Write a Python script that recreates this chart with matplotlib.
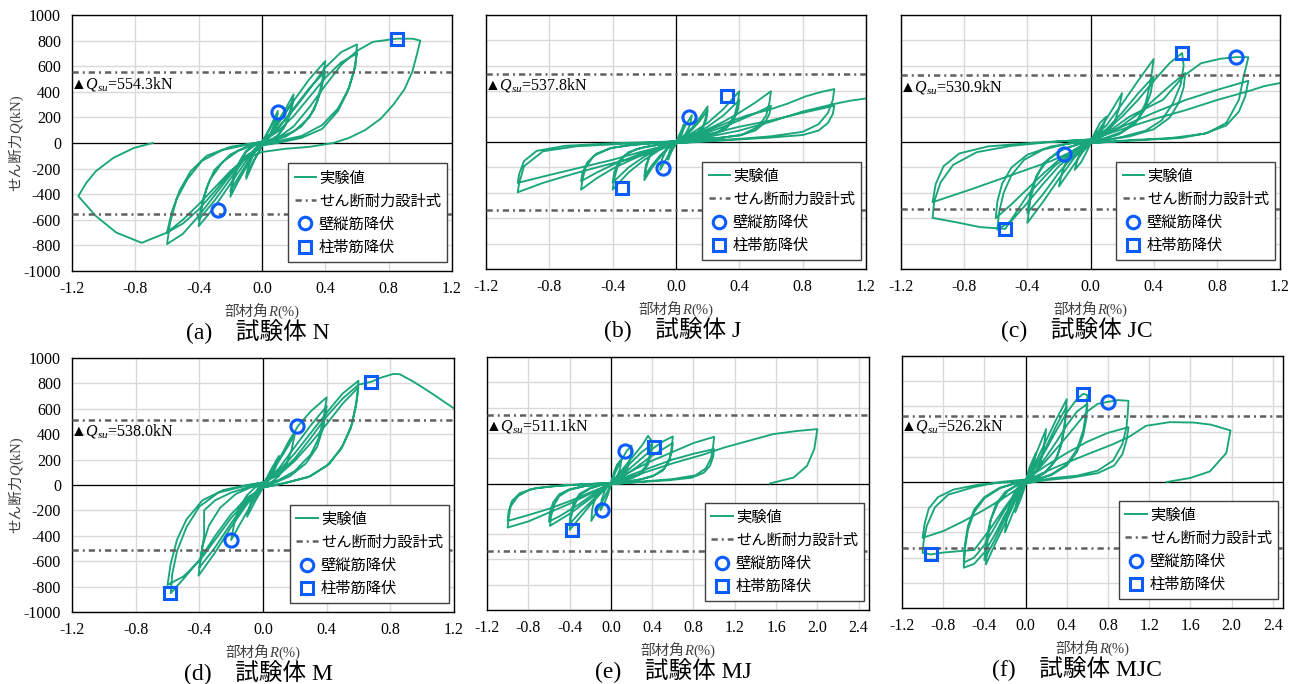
import numpy as np
import matplotlib
matplotlib.use("Agg")
import matplotlib.pyplot as plt
from matplotlib.ticker import MultipleLocator, FormatStrFormatter
from matplotlib.lines import Line2D

plt.rcParams['font.family'] = ['Liberation Serif', 'Noto Sans CJK JP', 'DejaVu Sans']
plt.rcParams['mathtext.fontset'] = 'custom'
plt.rcParams['mathtext.rm'] = 'Liberation Serif'
plt.rcParams['mathtext.it'] = 'Liberation Serif:italic'
plt.rcParams['axes.unicode_minus'] = False

# ---- data: (R [%], Q [kN]) vertices of each test curve ----
N_curve = [
    (0, 0), (0.05, 120), (0.1, 250), (0.08, 150), (0.05, 60), (0.02, 10), (0, -20), (-0.05, -140), (-0.1, -280),
    (-0.08, -170), (-0.05, -70), (-0.02, -10), (0, 10),
    (0.05, 110), (0.1, 230), (0.08, 130), (0.05, 50), (0.02, 5), (0, -25), (-0.05, -130), (-0.1, -260),
    (-0.08, -150), (-0.05, -60), (-0.02, -5), (0, 15),
    (0.05, 70), (0.1, 170), (0.15, 270), (0.2, 380), (0.18, 260), (0.15, 150), (0.1, 60), (0.05, 20), (0, -10),
    (-0.05, -80), (-0.1, -190), (-0.15, -300), (-0.2, -420), (-0.18, -290), (-0.15, -170), (-0.1, -70), (-0.05, -20), (0, 10),
    (0.05, 60), (0.1, 150), (0.15, 240), (0.2, 340), (0.18, 230), (0.14, 120), (0.1, 55), (0.05, 15), (0, -15),
    (-0.05, -70), (-0.1, -170), (-0.15, -270), (-0.2, -380), (-0.18, -260), (-0.14, -140), (-0.1, -60), (-0.05, -20), (0, 10),
    (0.05, 60), (0.1, 150), (0.2, 330), (0.3, 500), (0.4, 640), (0.38, 480), (0.35, 330), (0.3, 200), (0.2, 90), (0.1, 40), (0, 0),
    (-0.05, -50), (-0.1, -140), (-0.2, -320), (-0.3, -500), (-0.4, -650), (-0.38, -500), (-0.35, -350), (-0.3, -210),
    (-0.2, -90), (-0.1, -30), (0, 10),
    (0.1, 110), (0.2, 270), (0.3, 430), (0.4, 560), (0.37, 400), (0.33, 260), (0.25, 130), (0.15, 50), (0.05, 10), (0, -10),
    (-0.1, -110), (-0.2, -280), (-0.3, -450), (-0.4, -600), (-0.37, -430), (-0.33, -290), (-0.25, -150), (-0.15, -60), (-0.05, -15), (0, 10),
    (0.1, 120), (0.2, 260), (0.3, 420), (0.4, 590), (0.5, 710), (0.6, 770), (0.59, 600), (0.55, 430), (0.48, 270), (0.38, 140),
    (0.25, 55), (0.1, 15), (0, -10), (-0.1, -110), (-0.2, -250), (-0.3, -410), (-0.4, -570), (-0.5, -710), (-0.6, -790),
    (-0.58, -620), (-0.54, -440), (-0.47, -280), (-0.38, -140), (-0.25, -55), (-0.1, -15), (0, 10),
    (0.1, 90), (0.2, 210), (0.3, 360), (0.4, 510), (0.5, 630), (0.6, 700), (0.58, 560), (0.54, 400), (0.48, 250), (0.38, 110),
    (0.25, 40), (0.1, 0), (0, -20), (-0.1, -100), (-0.2, -230), (-0.3, -380), (-0.4, -520), (-0.5, -630), (-0.6, -700),
    (-0.57, -540), (-0.52, -370), (-0.45, -220), (-0.35, -100), (-0.2, -30), (0, 10),
    (0.1, 40), (0.2, 130), (0.3, 280), (0.4, 450), (0.5, 610), (0.6, 720), (0.7, 790), (0.85, 815), (0.95, 815), (1.0, 800),
    (0.98, 700), (0.95, 560), (0.9, 420), (0.83, 300), (0.75, 190), (0.65, 100), (0.55, 40), (0.45, 0), (0.3, -30),
    (0.15, -45), (0, -70), (-0.1, -120), (-0.2, -220), (-0.3, -350), (-0.4, -480), (-0.5, -600), (-0.6, -700),
    (-0.76, -780), (-0.92, -700), (-1.05, -570), (-1.16, -415), (-1.11, -312), (-1.05, -221), (-0.94, -117),
    (-0.81, -39), (-0.69, 0)]

J_curve = [
    (0, 0), (0.03, 80), (0.05, 140), (0.04, 70), (0.02, 20), (0, -10), (-0.03, -80), (-0.05, -140), (-0.04, -70), (-0.02, -20), (0, 0),
    (0.03, 60), (0.06, 130), (0.1, 210), (0.09, 140), (0.06, 60), (0.03, 20), (0, -10), (-0.03, -60), (-0.06, -130), (-0.1, -220),
    (-0.09, -140), (-0.06, -60), (-0.03, -20), (0, 0),
    (0.05, 50), (0.1, 110), (0.15, 190), (0.2, 280), (0.19, 200), (0.17, 120), (0.12, 50), (0.06, 20), (0, -5), (-0.05, -50),
    (-0.1, -120), (-0.15, -200), (-0.2, -300), (-0.19, -210), (-0.17, -120), (-0.12, -50), (-0.06, -15), (0, 0),
    (0.05, 40), (0.1, 95), (0.15, 165), (0.2, 250), (0.19, 170), (0.16, 90), (0.1, 35), (0.05, 10), (0, -10), (-0.05, -45),
    (-0.1, -105), (-0.15, -180), (-0.2, -270), (-0.19, -180), (-0.16, -100), (-0.1, -40), (-0.05, -10), (0, 0),
    (0.1, 70), (0.2, 150), (0.3, 260), (0.4, 400), (0.39, 310), (0.37, 210), (0.33, 130), (0.25, 70), (0.15, 40), (0.05, 15), (0, -5),
    (-0.1, -60), (-0.2, -140), (-0.3, -240), (-0.4, -375), (-0.39, -290), (-0.37, -200), (-0.33, -110), (-0.25, -55),
    (-0.15, -30), (-0.05, -10), (0, 5),
    (0.1, 55), (0.2, 120), (0.3, 210), (0.4, 330), (0.39, 250), (0.36, 160), (0.3, 90), (0.2, 45), (0.1, 25), (0, 0),
    (-0.1, -50), (-0.2, -115), (-0.3, -200), (-0.4, -320), (-0.39, -240), (-0.36, -150), (-0.3, -80), (-0.2, -40), (-0.1, -20), (0, 5),
    (0.1, 50), (0.2, 100), (0.3, 160), (0.4, 230), (0.5, 310), (0.6, 400), (0.59, 310), (0.57, 210), (0.52, 120), (0.42, 60),
    (0.3, 35), (0.15, 20), (0, 0), (-0.1, -45), (-0.2, -95), (-0.3, -150), (-0.4, -210), (-0.5, -285), (-0.6, -375),
    (-0.59, -290), (-0.57, -200), (-0.52, -110), (-0.42, -50), (-0.3, -25), (-0.15, -10), (0, 5),
    (0.1, 35), (0.2, 75), (0.3, 120), (0.4, 170), (0.5, 225), (0.6, 285), (0.59, 220), (0.56, 150), (0.5, 90), (0.4, 50),
    (0.25, 30), (0.1, 15), (0, 0), (-0.1, -40), (-0.2, -80), (-0.3, -130), (-0.4, -180), (-0.5, -240), (-0.6, -309),
    (-0.59, -240), (-0.56, -160), (-0.5, -90), (-0.4, -45), (-0.25, -20), (-0.1, -5), (0, 5),
    (0.1, 50), (0.2, 90), (0.32, 150), (0.45, 210), (0.59, 255), (0.7, 300), (0.82, 360), (0.92, 395), (1.0, 417),
    (0.99, 330), (0.96, 230), (0.9, 140), (0.8, 80), (0.6, 45), (0.4, 25), (0.2, 10), (0, -10),
    (-0.15, -80), (-0.31, -139), (-0.47, -190), (-0.63, -244), (-0.84, -322), (-1.0, -396), (-0.99, -322),
    (-0.96, -191), (-0.84, -73), (-0.63, -34), (-0.31, -13), (0, 5),
    (0.2, 60), (0.4, 120), (0.6, 170), (0.8, 230), (1.0, 285), (0.99, 220), (0.96, 150), (0.9, 90), (0.8, 55), (0.6, 35),
    (0.4, 20), (0.2, 5), (0, -10),
    (-0.2, -70), (-0.4, -140), (-0.6, -200), (-0.8, -260), (-1.0, -322), (-0.99, -250), (-0.96, -150), (-0.88, -70),
    (-0.7, -30), (-0.4, -10), (0, 5),
    (0.2, 40), (0.4, 90), (0.6, 160), (0.8, 240), (1.0, 300), (1.1, 325), (1.2, 343)]

JC_curve = [
    (0, 0), (0.03, 80), (0.06, 150), (0.1, 200), (0.08, 120), (0.05, 50), (0.02, 10), (0, -15), (-0.03, -90), (-0.06, -160),
    (-0.1, -220), (-0.08, -130), (-0.05, -50), (-0.02, -10), (0, 10),
    (0.05, 90), (0.1, 180), (0.15, 280), (0.2, 385), (0.18, 260), (0.15, 150), (0.1, 70), (0.05, 25), (0, -10), (-0.05, -80),
    (-0.1, -170), (-0.15, -260), (-0.2, -350), (-0.18, -240), (-0.15, -140), (-0.1, -60), (-0.05, -20), (0, 10),
    (0.1, 130), (0.2, 300), (0.3, 480), (0.4, 653), (0.38, 470), (0.35, 310), (0.3, 180), (0.2, 80), (0.1, 35), (0, 0),
    (-0.1, -120), (-0.2, -290), (-0.3, -470), (-0.4, -637), (-0.38, -450), (-0.35, -300), (-0.3, -170), (-0.2, -70), (-0.1, -25), (0, 10),
    (0.1, 100), (0.2, 230), (0.3, 380), (0.4, 516), (0.38, 380), (0.34, 250), (0.28, 140), (0.18, 60), (0.08, 20), (0, -5),
    (-0.1, -100), (-0.2, -240), (-0.3, -410), (-0.4, -560), (-0.38, -400), (-0.34, -260), (-0.27, -140), (-0.17, -55), (-0.07, -15), (0, 10),
    (0.1, 90), (0.2, 200), (0.3, 330), (0.4, 480), (0.5, 620), (0.58, 700), (0.59, 600), (0.57, 450), (0.52, 300), (0.45, 170),
    (0.35, 90), (0.2, 40), (0, -10), (-0.1, -80), (-0.2, -190), (-0.3, -330), (-0.4, -480), (-0.5, -620), (-0.59, -690),
    (-0.58, -560), (-0.55, -400), (-0.5, -260), (-0.42, -140), (-0.3, -60), (-0.15, -15), (0, 15),
    (0.1, 60), (0.2, 130), (0.3, 220), (0.4, 330), (0.5, 440), (0.6, 543), (0.59, 430), (0.56, 310), (0.5, 190), (0.4, 100),
    (0.25, 45), (0.1, 15), (0, -10), (-0.1, -60), (-0.2, -140), (-0.3, -250), (-0.4, -370), (-0.5, -490), (-0.6, -600),
    (-0.59, -470), (-0.56, -330), (-0.5, -200), (-0.4, -100), (-0.25, -35), (-0.1, -5), (0, 15),
    (0.1, 70), (0.25, 202), (0.46, 333), (0.59, 520), (0.7, 620), (0.82, 655), (0.92, 668), (1.0, 668), (0.97, 516),
    (0.94, 333), (0.86, 150), (0.74, 71), (0.57, 31), (0.36, 18), (0, -8),
    (-0.1, -70), (-0.23, -191), (-0.4, -420), (-0.54, -684), (-0.7, -670), (-0.85, -632), (-1.0, -598), (-0.99, -470),
    (-0.95, -320), (-0.87, -180), (-0.72, -80), (-0.5, -30), (-0.25, 0), (0, 20),
    (0.2, 120), (0.4, 230), (0.6, 330), (0.8, 410), (1.0, 482), (0.98, 360), (0.94, 240), (0.86, 130), (0.72, 65), (0.5, 30),
    (0.25, 15), (0, -10),
    (-0.25, -150), (-0.5, -260), (-0.75, -370), (-1.0, -474), (-0.98, -330), (-0.93, -190), (-0.83, -90), (-0.65, -35),
    (-0.35, -5), (0, 20),
    (0.2, 100), (0.4, 180), (0.6, 250), (0.8, 330), (1.0, 400), (1.1, 440), (1.2, 464)]

M_curve = [
    (0, 0), (0.05, 120), (0.1, 230), (0.08, 140), (0.05, 60), (0.02, 10), (0, -20), (-0.05, -130), (-0.1, -250), (-0.08, -150),
    (-0.05, -60), (-0.02, -10), (0, 10),
    (0.05, 90), (0.1, 190), (0.15, 290), (0.2, 400), (0.18, 280), (0.15, 170), (0.1, 70), (0.05, 20), (0, -10), (-0.05, -100),
    (-0.1, -210), (-0.15, -320), (-0.2, -433), (-0.18, -300), (-0.15, -180), (-0.1, -80), (-0.05, -20), (0, 10),
    (0.05, 90), (0.1, 200), (0.16, 340), (0.22, 464), (0.3, 580), (0.4, 690), (0.38, 520), (0.35, 370), (0.3, 240), (0.2, 110),
    (0.1, 40), (0, 0), (-0.1, -150), (-0.2, -330), (-0.3, -530), (-0.405, -714), (-0.39, -560), (-0.37, -400), (-0.37, -200),
    (-0.3, -120), (-0.2, -60), (-0.1, -20), (0, 10),
    (0.1, 130), (0.2, 300), (0.3, 470), (0.4, 620), (0.38, 460), (0.34, 300), (0.27, 170), (0.17, 70), (0.08, 20), (0, -10),
    (-0.1, -130), (-0.2, -300), (-0.3, -490), (-0.4, -650), (-0.38, -480), (-0.34, -320), (-0.27, -180), (-0.17, -70), (-0.08, -20), (0, 10),
    (0.1, 110), (0.2, 250), (0.3, 410), (0.4, 570), (0.5, 720), (0.6, 821), (0.59, 660), (0.56, 480), (0.5, 310), (0.42, 170),
    (0.3, 70), (0.15, 20), (0, -20), (-0.1, -120), (-0.2, -260), (-0.3, -430), (-0.4, -600), (-0.5, -720), (-0.6, -787),
    (-0.58, -620), (-0.54, -430), (-0.48, -270), (-0.38, -120), (-0.25, -40), (-0.1, 0), (0, 20),
    (0.1, 80), (0.2, 190), (0.3, 330), (0.4, 480), (0.5, 640), (0.6, 770), (0.58, 610), (0.55, 440), (0.49, 280), (0.4, 150),
    (0.28, 60), (0.12, 10), (0, -20), (-0.1, -100), (-0.2, -230), (-0.3, -400), (-0.4, -590), (-0.5, -740), (-0.58, -852),
    (-0.57, -700), (-0.54, -520), (-0.48, -330), (-0.4, -170), (-0.28, -60), (-0.12, -10), (0, 20),
    (0.1, 90), (0.2, 210), (0.3, 370), (0.4, 540), (0.5, 680), (0.6, 790), (0.68, 813), (0.74, 845), (0.82, 875), (0.86, 872),
    (0.95, 810), (1.05, 730), (1.2, 603)]

MJ_curve = [
    (0, 0), (0.03, 90), (0.06, 150), (0.1, 190), (0.09, 120), (0.06, 50), (0.03, 15), (0, -10), (-0.03, -90), (-0.06, -150),
    (-0.1, -211), (-0.09, -130), (-0.06, -60), (-0.03, -15), (0, 5),
    (0.05, 100), (0.1, 180), (0.15, 253), (0.2, 300), (0.19, 210), (0.16, 120), (0.1, 50), (0.05, 15), (0, -10), (-0.05, -90),
    (-0.1, -170), (-0.15, -240), (-0.19, -296), (-0.18, -200), (-0.15, -110), (-0.1, -45), (-0.05, -15), (0, 5),
    (0.1, 100), (0.2, 200), (0.3, 300), (0.36, 377), (0.4, 330), (0.38, 230), (0.34, 140), (0.27, 70), (0.15, 30), (0, 0),
    (-0.1, -80), (-0.2, -170), (-0.3, -270), (-0.4, -367), (-0.39, -280), (-0.36, -180), (-0.3, -90), (-0.2, -40), (-0.1, -15), (0, 5),
    (0.1, 80), (0.2, 170), (0.3, 250), (0.4, 310), (0.39, 230), (0.36, 150), (0.3, 80), (0.2, 40), (0.1, 15), (0, -5),
    (-0.1, -70), (-0.2, -150), (-0.3, -230), (-0.4, -320), (-0.39, -240), (-0.36, -150), (-0.3, -80), (-0.2, -35), (-0.1, -10), (0, 5),
    (0.1, 60), (0.2, 130), (0.3, 200), (0.42, 285), (0.5, 330), (0.6, 372), (0.59, 290), (0.57, 200), (0.52, 120), (0.42, 65),
    (0.3, 35), (0.15, 15), (0, -5), (-0.1, -60), (-0.2, -120), (-0.3, -180), (-0.4, -240), (-0.5, -290), (-0.59, -335),
    (-0.58, -260), (-0.55, -170), (-0.5, -100), (-0.4, -50), (-0.25, -20), (-0.1, -5), (0, 5),
    (0.1, 50), (0.2, 100), (0.3, 160), (0.4, 220), (0.5, 270), (0.6, 320), (0.59, 250), (0.56, 170), (0.5, 100), (0.4, 55),
    (0.25, 25), (0.1, 10), (0, -5), (-0.1, -50), (-0.2, -100), (-0.3, -160), (-0.4, -210), (-0.5, -260), (-0.6, -300),
    (-0.59, -230), (-0.56, -150), (-0.5, -85), (-0.4, -45), (-0.25, -20), (-0.1, -5), (0, 5),
    (0.1, 50), (0.2, 100), (0.4, 180), (0.6, 250), (0.8, 320), (1.0, 369), (0.99, 290), (0.97, 200), (0.92, 120), (0.82, 65),
    (0.6, 35), (0.3, 15), (0, -5),
    (-0.2, -80), (-0.4, -160), (-0.6, -230), (-0.8, -300), (-1.0, -348), (-0.99, -270), (-0.97, -180), (-0.9, -100),
    (-0.78, -45), (-0.55, -20), (-0.25, -5), (0, 5),
    (0.2, 70), (0.4, 130), (0.6, 190), (0.8, 235), (1.0, 272), (0.99, 210), (0.96, 140), (0.9, 85), (0.78, 45), (0.55, 25),
    (0.25, 10), (0, -5),
    (-0.2, -70), (-0.4, -140), (-0.6, -200), (-0.8, -250), (-1.0, -296), (-0.99, -220), (-0.96, -140), (-0.88, -75),
    (-0.72, -35), (-0.45, -15), (0, 5),
    (0.3, 80), (0.6, 160), (0.9, 230), (1.1, 285), (1.28, 325), (1.57, 390), (1.8, 415), (2.0, 430), (1.97, 272),
    (1.9, 140), (1.77, 47), (1.54, 0)]

MJC_curve = [
    (0, 0), (0.04, 120), (0.1, 230), (0.08, 140), (0.05, 60), (0.02, 10), (0, -20), (-0.04, -120), (-0.1, -240), (-0.08, -140),
    (-0.05, -60), (-0.02, -10), (0, 10),
    (0.05, 110), (0.1, 220), (0.15, 320), (0.2, 420), (0.18, 290), (0.15, 170), (0.1, 80), (0.05, 25), (0, -10), (-0.05, -100),
    (-0.1, -200), (-0.15, -300), (-0.2, -400), (-0.18, -270), (-0.15, -160), (-0.1, -70), (-0.05, -20), (0, 10),
    (0.1, 160), (0.2, 330), (0.3, 500), (0.4, 657), (0.38, 470), (0.35, 310), (0.3, 180), (0.2, 80), (0.1, 30), (0, 0),
    (-0.1, -150), (-0.2, -330), (-0.3, -500), (-0.385, -654), (-0.37, -470), (-0.34, -310), (-0.29, -180), (-0.2, -80), (-0.1, -30), (0, 10),
    (0.1, 130), (0.2, 280), (0.3, 450), (0.4, 600), (0.38, 430), (0.34, 280), (0.28, 160), (0.18, 70), (0.08, 20), (0, -5),
    (-0.1, -120), (-0.2, -290), (-0.3, -460), (-0.4, -620), (-0.38, -450), (-0.34, -300), (-0.27, -170), (-0.17, -70), (-0.07, -20), (0, 10),
    (0.1, 120), (0.2, 260), (0.3, 410), (0.4, 550), (0.5, 660), (0.56, 700), (0.6, 690), (0.59, 560), (0.56, 410), (0.5, 260),
    (0.4, 140), (0.25, 60), (0.1, 20), (0, -15), (-0.1, -120), (-0.2, -260), (-0.3, -420), (-0.4, -560), (-0.5, -650),
    (-0.6, -680), (-0.59, -540), (-0.56, -380), (-0.5, -240), (-0.4, -130), (-0.25, -50), (-0.1, -10), (0, 15),
    (0.1, 90), (0.2, 200), (0.3, 320), (0.4, 450), (0.5, 560), (0.6, 620), (0.59, 500), (0.56, 370), (0.5, 240), (0.4, 130),
    (0.25, 55), (0.1, 15), (0, -15), (-0.1, -100), (-0.2, -220), (-0.3, -360), (-0.4, -500), (-0.5, -600), (-0.6, -640),
    (-0.59, -500), (-0.56, -350), (-0.5, -220), (-0.4, -120), (-0.25, -45), (-0.1, -10), (0, 15),
    (0.1, 80), (0.2, 170), (0.4, 360), (0.6, 560), (0.7, 620), (0.8, 636), (0.9, 650), (1.0, 644), (0.99, 520), (0.98, 435),
    (0.94, 300), (0.85, 170), (0.7, 90), (0.5, 50), (0.25, 30), (0, -10),
    (-0.1, -90), (-0.2, -200), (-0.35, -380), (-0.5, -540), (-0.65, -549), (-0.8, -560), (-0.92, -575), (-1.0, -562),
    (-0.99, -470), (-0.96, -350), (-0.88, -200), (-0.75, -100), (-0.5, -40), (-0.25, 0), (0, 20),
    (0.2, 130), (0.4, 230), (0.6, 320), (0.8, 390), (1.0, 435), (0.98, 330), (0.94, 220), (0.86, 130), (0.7, 70), (0.45, 35),
    (0.2, 15), (0, -10),
    (-0.2, -120), (-0.4, -220), (-0.6, -310), (-0.8, -390), (-1.0, -443), (-0.98, -330), (-0.94, -210), (-0.85, -120),
    (-0.7, -60), (-0.45, -20), (0, 10),
    (0.3, 120), (0.6, 220), (0.85, 300), (1.01, 361), (1.17, 446), (1.4, 475), (1.63, 472), (1.8, 455), (1.99, 409),
    (1.95, 230), (1.79, 84), (1.6, 32), (1.37, 0)]

# yield points (壁縦筋降伏 = circle, 柱帯筋降伏 = square)
N_circles = [(0.1, 240), (-0.28, -520)]
N_squares = [(0.85, 810)]
J_circles = [(0.08, 196), (-0.08, -204)]
J_squares = [(0.32, 359), (-0.34, -362)]
JC_circles = [(0.92, 668), (-0.167, -92)]
JC_squares = [(0.58, 700), (-0.54, -684)]
M_circles = [(0.216, 464), (-0.2, -433)]
M_squares = [(0.68, 813), (-0.583, -852)]
MJ_circles = [(0.14, 253), (-0.09, -211)]
MJ_squares = [(0.42, 285), (-0.38, -367)]
MJC_circles = [(0.8, 636)]
MJC_squares = [(0.56, 700), (-0.92, -575)]

# design shear strength lines (upper, lower) and the printed Qsu values
qsu_lines = {'N': (554, -554), 'J': (538, -537), 'JC': (531, -531),
             'M': (512, -512), 'MJ': (538, -533), 'MJC': (525, -526)}
qsu_labels = {'N': '554.3', 'J': '537.8', 'JC': '530.9', 'M': '538.0', 'MJ': '511.1', 'MJC': '526.2'}
x_max = {'N': 1.2, 'J': 1.2, 'JC': 1.2, 'M': 1.2, 'MJ': 2.5, 'MJC': 2.5}
captions = {'N': '(a)\u3000試験体 N', 'J': '(b)\u3000試験体 J', 'JC': '(c)\u3000試験体 JC',
            'M': '(d)\u3000試験体 M', 'MJ': '(e)\u3000試験体 MJ', 'MJC': '(f)\u3000試験体 MJC'}
legend_labels = ['実験値', 'せん断耐力設計式', '壁縦筋降伏', '柱帯筋降伏']

curves = {'N': N_curve, 'J': J_curve, 'JC': JC_curve, 'M': M_curve, 'MJ': MJ_curve, 'MJC': MJC_curve}
circles = {'N': N_circles, 'J': J_circles, 'JC': JC_circles, 'M': M_circles, 'MJ': MJ_circles, 'MJC': MJC_circles}
squares = {'N': N_squares, 'J': J_squares, 'JC': JC_squares, 'M': M_squares, 'MJ': MJ_squares, 'MJC': MJC_squares}

GREEN = '#1aa67a'
BLUE = '#0a5cff'
GRAY = '#606060'
LABEL = '#404040'
DASHDOT = (0, (2.5, 1.6, 0.8, 1.6))

W, H = 1298, 684
fig = plt.figure(figsize=(W / 100, H / 100), dpi=100)
renderer = fig.canvas.get_renderer()


def pieces_text(pieces, cx, cy, vertical=False, size=10.5):
    # mixed Japanese / italic latin label, laid out piece by piece on one baseline (pixel coords)
    arts = []
    for s, style in pieces:
        t = fig.text(0, 0, s, fontsize=size, style=style, color=LABEL,
                     rotation=90 if vertical else 0, rotation_mode='anchor',
                     ha='left', va='baseline')
        arts.append(t)
    lens = []
    for t in arts:
        e = t.get_window_extent(renderer)
        lens.append(e.height if vertical else e.width)
    pos = (cy if vertical else cx) - sum(lens) / 2
    for t, n in zip(arts, lens):
        if vertical:
            t.set_position((cx / W, pos / H))
        else:
            t.set_position((pos / W, 1 - cy / H))
        pos += n


# panel boxes in pixels: left, top, right, bottom
boxes = {'N': (72, 15, 452, 271), 'J': (486, 15, 866, 269), 'JC': (901, 15, 1280, 269),
         'M': (72, 358, 454, 612), 'MJ': (487, 357, 869, 610), 'MJC': (902, 356, 1283, 608)}
qsu_y = {'N': 0.73, 'J': 0.724, 'JC': 0.717, 'M': 0.713, 'MJ': 0.727, 'MJC': 0.722}
cap_x = {'N': 258, 'J': 673, 'JC': 1077, 'M': 258, 'MJ': 673, 'MJC': 1077}
left_col = ('N', 'M')

for key, (l, t, r, b) in boxes.items():
    ax = fig.add_axes([l / W, 1 - b / H, (r - l) / W, (b - t) / H])
    ax.set_xlim(-1.2, x_max[key])
    ax.set_ylim(-1000, 1000)
    ax.xaxis.set_major_locator(MultipleLocator(0.4))
    ax.xaxis.set_major_formatter(FormatStrFormatter('%.1f'))
    ax.yaxis.set_major_locator(MultipleLocator(200))
    ax.yaxis.set_major_formatter(FormatStrFormatter('%d'))
    ax.grid(True, color='#d9d9d9', lw=1.0, zorder=0)
    ax.set_axisbelow(True)
    ax.tick_params(length=0, labelsize=11.5, pad=7)
    ax.tick_params(axis='y', pad=8)
    if key not in left_col:
        ax.tick_params(labelleft=False)
    for s in ax.spines.values():
        s.set_color('black')
        s.set_linewidth(1.0)
    ax.axhline(0, color='black', lw=0.9, zorder=1)
    ax.axvline(0, color='black', lw=0.9, zorder=1)

    pts = np.array(curves[key], dtype=float)
    ax.plot(pts[:, 0], pts[:, 1], color=GREEN, lw=1.35, zorder=2)
    up, lo = qsu_lines[key]
    ax.axhline(up, color=GRAY, lw=1.8, ls=DASHDOT, zorder=3)
    ax.axhline(lo, color=GRAY, lw=1.8, ls=DASHDOT, zorder=3)
    c = np.array(circles[key], dtype=float)
    ax.plot(c[:, 0], c[:, 1], 'o', ms=9.5, mfc='none', mec=BLUE, mew=2.2, zorder=4)
    sq = np.array(squares[key], dtype=float)
    ax.plot(sq[:, 0], sq[:, 1], 's', ms=9, mfc='none', mec=BLUE, mew=2.2, zorder=4)

    ax.text(-0.006, qsu_y[key], '▲$Q_{su}$=' + qsu_labels[key] + 'kN', transform=ax.transAxes,
            ha='left', va='center', fontsize=11.5)

    handles = [Line2D([], [], color=GREEN, lw=1.4),
               Line2D([], [], color=GRAY, lw=1.8, ls=DASHDOT),
               Line2D([], [], ls='none', marker='o', ms=9, mfc='none', mec=BLUE, mew=2.2),
               Line2D([], [], ls='none', marker='s', ms=8.5, mfc='none', mec=BLUE, mew=2.2)]
    leg = ax.legend(handles, legend_labels,
                    loc='lower right', bbox_to_anchor=(0.987, 0.035), borderaxespad=0,
                    fancybox=False, framealpha=1, edgecolor='#404040', handlelength=1.4,
                    handletextpad=0.2, labelspacing=0.4, borderpad=0.4,
                    prop={'family': ['Noto Sans CJK JP'], 'size': 11})
    leg.get_frame().set_linewidth(1.0)

    # axis titles (pixel positions) and caption
    pieces_text([('部材角', 'normal'), ('R', 'italic'), ('(%)', 'normal')], (l + r) / 2, b + 45)
    if key in left_col:
        pieces_text([('せん断力', 'normal'), ('Q', 'italic'), ('(kN)', 'normal')],
                    20, H - (t + b) / 2, vertical=True)
    fig.text(cap_x[key] / W, 1 - (b + 61) / H, captions[key], ha='center', va='center', fontsize=17)

fig.savefig('out.png', dpi=100)
